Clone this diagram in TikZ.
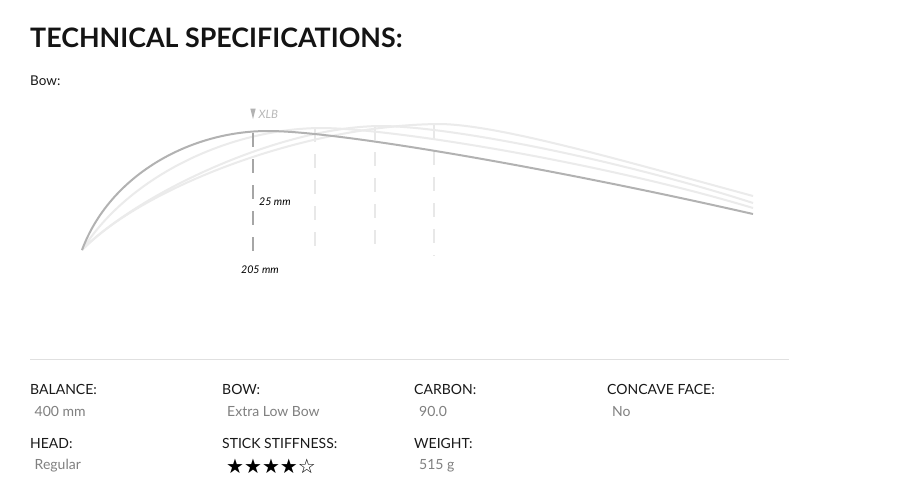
\documentclass[tikz,border=0pt]{standalone}
\usepackage{fontspec}
\setmainfont{Lato}
\newfontfamily\symfont{DejaVu Sans}
\begin{document}
\begin{tikzpicture}[x=1pt,y=-1pt,
  title/.style={anchor=base west,inner sep=0pt,font=\fontsize{26.8}{30}\selectfont\bfseries,text=black!92},
  lbl/.style={anchor=base west,inner sep=0pt,font=\fontsize{14}{16}\selectfont,text=black!90},
  val/.style={anchor=base west,inner sep=0pt,font=\fontsize{14}{16}\selectfont,text=black!50},
  small/.style={anchor=base west,inner sep=0pt,font=\fontsize{10.6}{12}\selectfont\itshape,text=black},
  darkcurve/.style={draw=black!30,line width=2pt},
  lightcurve/.style={draw=black!8,line width=2pt},
  lightdash/.style={draw=black!9,line width=1.6pt,dash pattern=on 14pt off 12pt},
  darkdash/.style={draw=black!35,line width=1.8pt,dash pattern=on 14pt off 12pt}]
\useasboundingbox (0,0) rectangle (904,496);
\fill[white] (0,0) rectangle (904,496);

\node[title] (t) at (30,47) {TECHNICAL SPECIFICATIONS:};
\node[anchor=base west,inner sep=0pt,font=\fontsize{13.5}{15}\selectfont,text=black!90] (bow) at (30,85.5) {Bow:};

% dashed verticals
\coordinate (d1t) at (315,128); \coordinate (d1b) at (315,256);
\coordinate (d2t) at (375,126); \coordinate (d2b) at (375,256);
\coordinate (d3t) at (434,125); \coordinate (d3b) at (434,256);
\coordinate (d0t) at (253,133); \coordinate (d0b) at (253,258);
\draw[lightdash] (d1t) -- (d1b);
\draw[lightdash] (d2t) -- (d2b);
\draw[lightdash] (d3t) -- (d3b);

% curves
\coordinate (s) at (82,250);
\draw[lightcurve] (s) .. controls (140,190) and (300,125) .. (440,124) .. controls (500,125) and (620,160) .. (753,196);
\draw[lightcurve] (s) .. controls (140,192) and (280,127) .. (380,126) .. controls (450,126) and (620,160) .. (753,203);
\draw[lightcurve] (s) .. controls (130,175) and (230,129) .. (320,128) .. controls (390,128) and (600,162) .. (753,208);
\draw[darkcurve] (s) .. controls (110,175) and (190,131) .. (268,131) .. controls (340,131) and (560,170) .. (753,214);

\draw[darkdash] (d0t) -- (d0b);

% XLB marker
\fill[black!30] (250.3,108.5) -- (255.7,108.5) -- (253,119) -- cycle;
\node[anchor=base west,inner sep=0pt,font=\fontsize{11.5}{13}\selectfont\itshape,text=black!28] (xlb) at (258.5,118.5) {XLB};
\node[small] (h) at (259,205.5) {25 mm};
\node[small] (p) at (241,273.5) {205 mm};

% separator
\coordinate (sl) at (30,359); \coordinate (sr) at (789,359);
\draw[black!12,line width=0.8pt] (sl) -- (sr);

% specs
\node[lbl] (l1) at (30,394) {BALANCE:};
\node[val] (v1) at (34.5,416) {400 mm};
\node[lbl] (l2) at (222,394) {BOW:};
\node[val] (v2) at (227,416) {Extra Low Bow};
\node[lbl] (l3) at (414,394) {CARBON:};
\node[val] (v3) at (419,416) {90.0};
\node[lbl] (l4) at (607,394) {CONCAVE FACE:};
\node[val] (v4) at (612,416) {No};

\node[lbl] (l5) at (30,448.5) {HEAD:};
\node[val] (v5) at (34.5,469.5) {Regular};
\node[lbl] (l6) at (222,448.5) {STICK STIFFNESS:};
\node[anchor=base west,inner sep=0pt,font=\symfont\fontsize{20}{22}\selectfont,text=black] (v6) at (226,473) {★★★★☆};
\node[lbl] (l7) at (414,448.5) {WEIGHT:};
\node[val] (v7) at (419,469.5) {515 g};
\end{tikzpicture}
\end{document}
